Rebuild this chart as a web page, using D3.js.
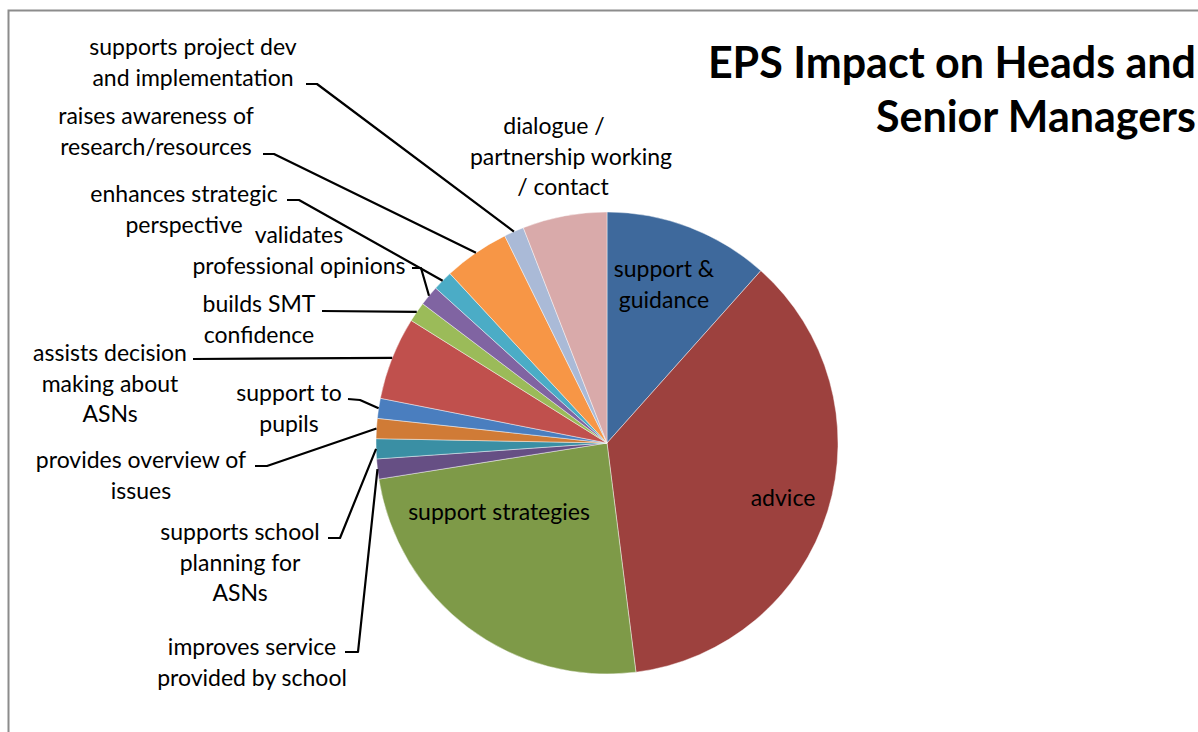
<!DOCTYPE html>
<html>
<head>
<meta charset="utf-8">
<script src="https://cdn.jsdelivr.net/npm/d3@7"></script>
<style>
  html, body { margin: 0; padding: 0; background: #fff; overflow: hidden; }
  svg { display: block; }
  text { font-family: Lato, "Open Sans", sans-serif; fill: #000; }
</style>
</head>
<body>
<svg id="chart" width="1198" height="732"></svg>
<script>
// Share of responses per impact category (percent), clockwise from 12 o'clock
const categories = [
  "support & guidance",
  "advice",
  "support strategies",
  "improves service provided by school",
  "supports school planning for ASNs",
  "provides overview of issues",
  "support to pupils",
  "assists decision making about ASNs",
  "builds SMT confidence",
  "validates professional opinions",
  "enhances strategic perspective",
  "raises awareness of research/resources",
  "supports project dev and implementation",
  "dialogue / partnership working / contact"
];
const values = [11.6, 36.4, 24.5, 1.4, 1.4, 1.4, 1.4, 5.8, 1.4, 1.4, 1.4, 4.6, 1.4, 5.9];
const labelLines = [
  ["support &", "guidance"],
  ["advice"],
  ["support strategies"],
  ["improves service", "provided by school"],
  ["supports school", "planning for", "ASNs"],
  ["provides overview of", "issues"],
  ["support to", "pupils"],
  ["assists decision", "making about", "ASNs"],
  ["builds SMT", "confidence"],
  ["validates", "professional opinions"],
  ["enhances strategic", "perspective"],
  ["raises awareness of", "research/resources"],
  ["supports project dev", "and implementation"],
  ["dialogue /", "partnership working", "/ contact"]
];
const sliceColors = [
  "#3E699C", "#9D413E", "#7E9A48", "#664F84", "#3A8FA4", "#D07B36",
  "#4A7EBF", "#C0504D", "#9BBB59", "#8064A2", "#4BACC6", "#F79646",
  "#AABAD7", "#D9AAAA"
];
const titleLines = ["EPS Impact on Heads and", "Senior Managers"];

const W = 1198, H = 732;
const cx = 607, cy = 443, R = 231;
const lineH = 30.5;

const svg = d3.select("#chart");

// chart area frame (right and bottom edges fall outside the view)
svg.append("rect")
  .attr("x", 8.5).attr("y", 10.5)
  .attr("width", 1400).attr("height", 1000)
  .attr("fill", "none").attr("stroke", "#8c8c8c").attr("stroke-width", 2);

const pie = d3.pie().sort(null).value(d => d)(values);
const arc = d3.arc().innerRadius(0).outerRadius(R);
const edge = d3.arc().innerRadius(R).outerRadius(R);

const g = svg.append("g").attr("transform", `translate(${cx},${cy})`);
g.selectAll("path.slice")
  .data(pie)
  .join("path")
  .attr("class", "slice")
  .attr("d", arc)
  .attr("fill", (d, i) => sliceColors[i])
  .attr("stroke", "rgba(255,255,255,0.55)")
  .attr("stroke-width", 0.8);

// label placement: x = line centre, y = first baseline, lead = leader points before the slice edge
const labelLayout = [
  { x: 664, y: 277 },
  { x: 783, y: 506 },
  { x: 499, y: 520 },
  { x: 252, y: 655, lead: [[345, 652], [358, 652]] },
  { x: 240, y: 540, lead: [[328, 538], [340, 538]] },
  { x: 141, y: 468, lead: [[255, 466], [267, 466]] },
  { x: 289, y: 401, lead: [[348, 399], [360, 400]] },
  { x: 110, y: 361, lead: [[193, 359]] },
  { x: 259, y: 312, lead: [[322, 311]] },
  { x: 299, y: 243, lead: [[412, 268], [421, 268]] },
  { x: 184, y: 202, lead: [[287, 200], [299, 200]] },
  { x: 156, y: 124, lead: [[263, 154], [274, 154]] },
  { x: 193, y: 55, lead: [[306, 84], [317, 84]] },
  { x: 567, y: 134, dx: [-13, 4, -4] }
];

const fontSize = 23;

// leader lines from the labels to the outer edge of each slice
pie.forEach((d, i) => {
  const L = labelLayout[i];
  if (!L.lead) return;
  const e = edge.centroid(d);
  const pts = L.lead.concat([[cx + e[0], cy + e[1]]]);
  svg.append("path")
    .attr("d", d3.line()(pts))
    .attr("fill", "none")
    .attr("stroke", "#000")
    .attr("stroke-width", 2.2)
    .attr("stroke-linejoin", "round");
});

// slice labels
labelLines.forEach((lines, i) => {
  const L = labelLayout[i];
  const t = svg.append("text")
    .attr("text-anchor", "middle")
    .attr("font-size", fontSize);
  lines.forEach((s, k) => {
    t.append("tspan")
      .attr("x", L.x + (L.dx ? L.dx[k] : 0))
      .attr("y", L.y + k * lineH)
      .text(s);
  });
});

// title
const title = svg.append("text")
  .attr("text-anchor", "end")
  .attr("font-size", 43)
  .attr("font-weight", 700);
titleLines.forEach((s, k) => {
  title.append("tspan").attr("x", 1196).attr("y", 78 + k * 54).text(s);
});
</script>
</body>
</html>
